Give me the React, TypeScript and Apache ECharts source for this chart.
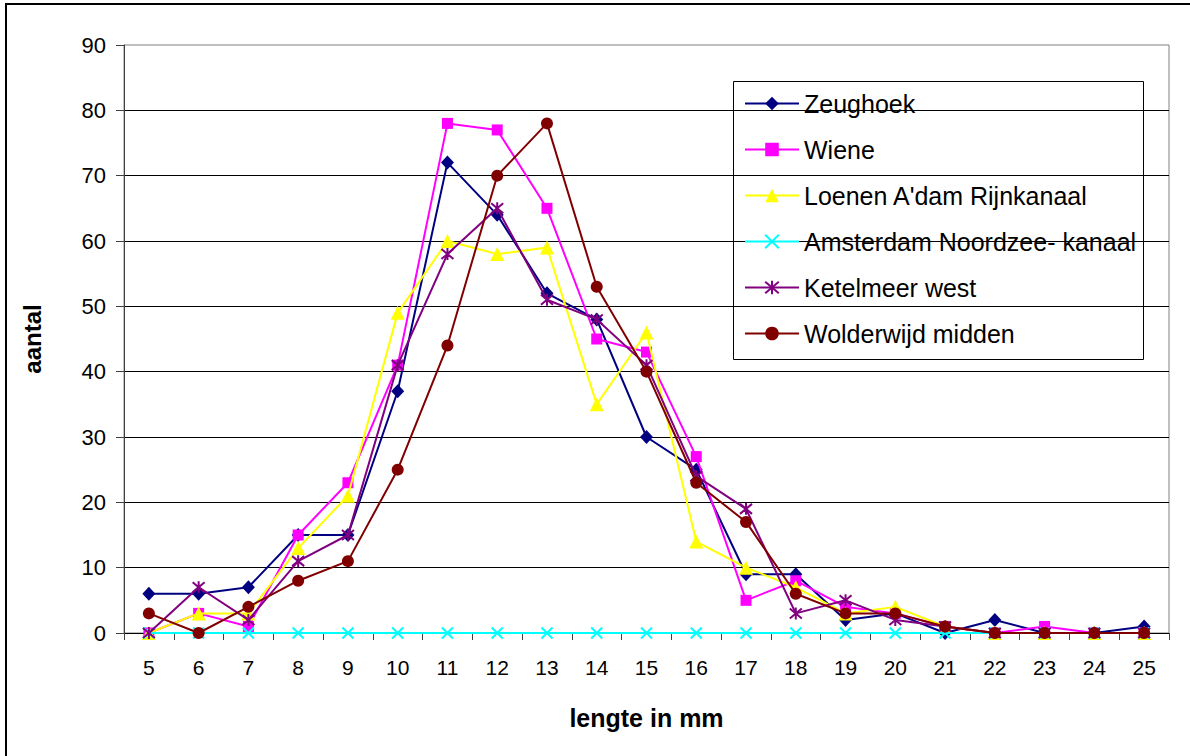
import React, { useEffect, useRef } from "react";
import * as echarts from "echarts";

const categories = ["5","6","7","8","9","10","11","12","13","14","15","16","17","18","19","20","21","22","23","24","25"];
const zeughoek = [6,6,7,15,15,37,72,64,52,48,30,25,9,9,2,3,0,2,0,0,1];
const wiene = [0,3,1,15,23,41,78,77,65,45,43,27,5,8,4,3,1,0,1,0,0];
const loenen = [0,3,3,13,21,49,60,58,59,35,46,14,10,7,3,4,1,0,0,0,0];
const amsterdam = [0,0,0,0,0,0,0,0,0,0,0,0,0,0,0,0,0,0,0,0,0];
const ketelmeer = [0,7,2,11,15,41,58,65,51,48,41,24,19,3,5,2,1,0,0,0,0];
const wolderwijd = [3,0,4,8,11,25,44,70,78,53,40,23,17,6,3,3,1,0,0,0,0];
const seriesNames = ["Zeughoek","Wiene","Loenen A'dam Rijnkanaal","Amsterdam Noordzee- kanaal","Ketelmeer west","Wolderwijd midden"];

const FONT = "'Liberation Sans', Arial, sans-serif";

export default function App() {
  const ref = useRef<HTMLDivElement>(null);
  useEffect(() => {
    if (!ref.current) return;
    const chart = echarts.init(ref.current, undefined, { renderer: "svg" });
    const xPath = "path://M0,0L10,10M10,0L0,10";
    const starPath = "path://M0,0L10,10M10,0L0,10M5,-1L5,11";
    const defs: any[] = [
      { data: zeughoek, color: "#000080", symbol: "diamond", size: [13, 14] },
      { data: wiene, color: "#FF00FF", symbol: "rect", size: 11 },
      { data: loenen, color: "#FFFF00", symbol: "triangle", size: 14 },
      { data: amsterdam, color: "#00FFFF", symbol: xPath, size: 11, stroke: true },
      { data: ketelmeer, color: "#800080", symbol: starPath, size: 12, stroke: true },
      { data: wolderwijd, color: "#800000", symbol: "circle", size: 12 },
    ];
    chart.setOption({
      animation: false,
      backgroundColor: "#ffffff",
      textStyle: { fontFamily: FONT },
      grid: { left: 124, right: 21, top: 45, bottom: 123, show: true, borderColor: "#808080", borderWidth: 1, backgroundColor: "transparent" },
      legend: {
        orient: "vertical",
        left: 744,
        top: 91,
        padding: 0,
        itemWidth: 54,
        itemHeight: 17,
        itemGap: 21,
        textStyle: { fontSize: 25, color: "#000", fontFamily: FONT, lineHeight: 24 },
        data: seriesNames,
      },
      xAxis: {
        type: "category",
        data: categories,
        boundaryGap: true,
        name: "lengte in mm",
        nameLocation: "middle",
        nameGap: 72,
        nameTextStyle: { fontSize: 25, fontWeight: "bold", color: "#000", fontFamily: FONT },
        axisLine: { lineStyle: { color: "#000", width: 1 } },
        axisTick: { show: true, interval: 0, length: 7, lineStyle: { color: "#404040" } },
        axisLabel: { interval: 0, fontSize: 21, color: "#000", margin: 24, fontFamily: FONT },
        splitLine: { show: false },
      },
      yAxis: {
        type: "value",
        min: 0,
        max: 90,
        interval: 10,
        name: "aantal",
        nameLocation: "middle",
        nameGap: 80,
        nameRotate: 90,
        nameTextStyle: { fontSize: 24, fontWeight: "bold", color: "#000", fontFamily: FONT },
        axisLine: { show: true, lineStyle: { color: "#404040", width: 1 } },
        axisTick: { show: true, length: 8, lineStyle: { color: "#404040" } },
        axisLabel: { fontSize: 22, color: "#000", margin: 18, fontFamily: FONT },
        splitLine: { show: true, showMaxLine: false, lineStyle: { color: "#000", width: 1 } },
      },
      graphic: [
        { type: "rect", shape: { x: 6, y: 4, width: 1300, height: 900 }, style: { fill: "none", stroke: "#000", lineWidth: 2 }, silent: true, z: 100 },
        { type: "rect", shape: { x: 733.5, y: 81.5, width: 410, height: 278 }, style: { fill: "none", stroke: "#000", lineWidth: 1 }, silent: true, z: 100 },
      ],
      series: defs.map((d, i) => ({
        name: seriesNames[i],
        type: "line",
        data: d.data,
        symbol: d.symbol,
        symbolSize: d.size,
        showSymbol: true,
        showAllSymbol: true,
        lineStyle: { color: d.color, width: 2 },
        itemStyle: d.stroke
          ? { color: d.color, borderColor: d.color, borderWidth: 2 }
          : { color: d.color, borderWidth: 0 },
        emphasis: { disabled: true },
        z: 2 + i,
      })),
    });
    return () => chart.dispose();
  }, []);
  return (
    <div
      ref={ref}
      style={{ position: "absolute", left: 0, top: 0, width: 1190, height: 756, background: "#fff" }}
    />
  );
}
